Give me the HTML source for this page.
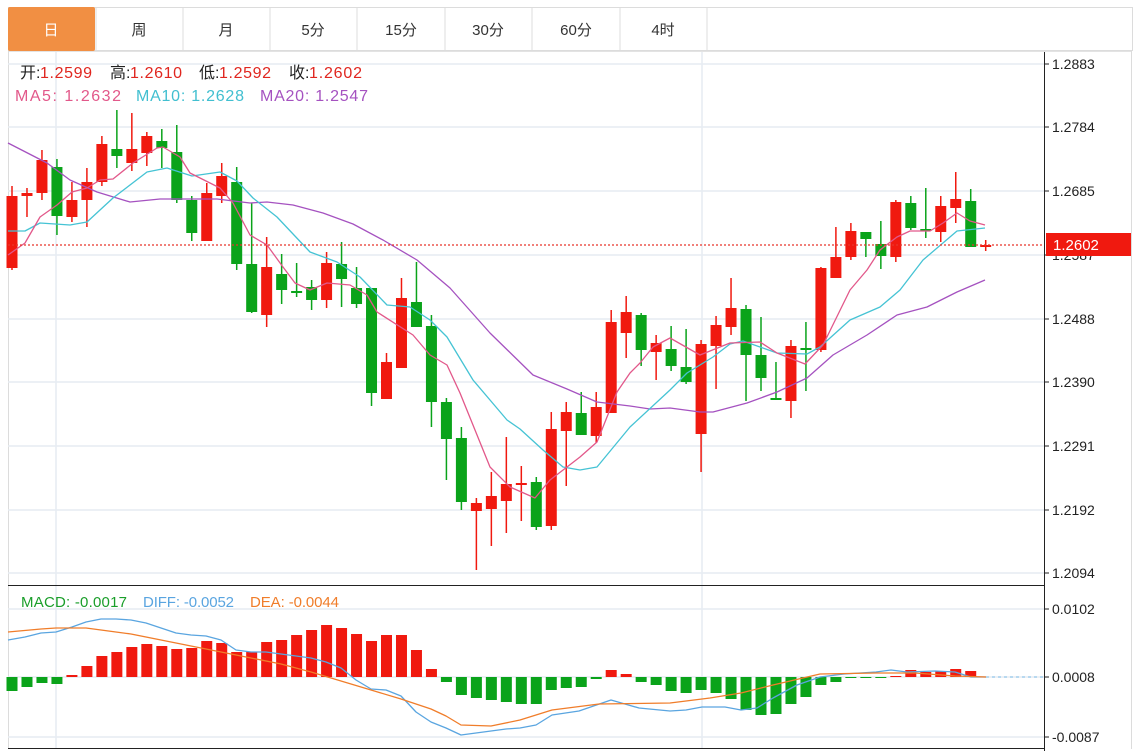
<!DOCTYPE html>
<html><head><meta charset="utf-8"><style>
html,body{margin:0;padding:0;background:#fff;}
body{width:1140px;height:751px;overflow:hidden;font-family:"Liberation Sans","Noto Sans CJK SC",sans-serif;}
</style></head><body>
<svg id="s" width="1140" height="751" xmlns="http://www.w3.org/2000/svg" font-family="Liberation Sans, Noto Sans CJK SC, sans-serif">
<rect x="0" y="0" width="1140" height="751" fill="#fff"/>
<rect x="8.5" y="7.5" width="1124" height="43" fill="#fff" stroke="#dcdcdc"/>
<rect x="8" y="7" width="87" height="44" rx="2" fill="#f18f43"/>
<g stroke="#dcdcdc"><line x1="183" y1="8" x2="183" y2="50"/><line x1="270" y1="8" x2="270" y2="50"/><line x1="357" y1="8" x2="357" y2="50"/><line x1="445" y1="8" x2="445" y2="50"/><line x1="532" y1="8" x2="532" y2="50"/><line x1="620" y1="8" x2="620" y2="50"/><line x1="707" y1="8" x2="707" y2="50"/><line x1="96" y1="8" x2="96" y2="50"/></g>
<g font-size="15" text-anchor="middle" fill="#333">
<text x="51" y="35" fill="#fff">日</text><text x="139" y="35">周</text><text x="226" y="35">月</text><text x="313" y="35">5分</text><text x="401" y="35">15分</text><text x="488" y="35">30分</text><text x="576" y="35">60分</text><text x="663" y="35">4时</text></g>
<line x1="8" y1="51.5" x2="1132" y2="51.5" stroke="#e3e3e3"/>
<line x1="8.5" y1="51" x2="8.5" y2="749" stroke="#dcdcdc"/>
<line x1="1131.5" y1="51" x2="1131.5" y2="749" stroke="#dcdcdc"/>
<g id="grid" stroke="#e6ecf2" stroke-width="1.5"></g>
<line x1="56" y1="52" x2="56" y2="749" stroke="#e6ecf2" stroke-width="1.5"/>
<line x1="702" y1="52" x2="702" y2="749" stroke="#e6ecf2" stroke-width="1.5"/>
<line x1="8" y1="585.5" x2="1044" y2="585.5" stroke="#222"/>
<line x1="8" y1="748.5" x2="1044" y2="748.5" stroke="#222"/>
<line x1="1044.5" y1="52" x2="1044.5" y2="751" stroke="#222"/>
<g id="ax" font-size="14" fill="#222"></g>
<g id="c"></g>
<line x1="8" y1="245" x2="1044" y2="245" stroke="#e8352b" stroke-width="1.2" stroke-dasharray="2,2"/>
<rect x="1046" y="233" width="85" height="23" fill="#f0190f"/>
<text x="1053" y="250" font-size="15" fill="#fff">1.2602</text>
<g font-size="16">
<text x="20" y="78" fill="#222">开:</text><text x="40" y="78" fill="#e0261f" textLength="52">1.2599</text>
<text x="110" y="78" fill="#222">高:</text><text x="130" y="78" fill="#e0261f" textLength="52">1.2610</text>
<text x="199" y="78" fill="#222">低:</text><text x="219" y="78" fill="#e0261f" textLength="52">1.2592</text>
<text x="289" y="78" fill="#222">收:</text><text x="309" y="78" fill="#e0261f" textLength="53">1.2602</text>
<text x="15" y="101" fill="#e2588a" textLength="106">MA5: 1.2632</text>
<text x="136" y="101" fill="#41bfd0" textLength="108">MA10: 1.2628</text>
<text x="260" y="101" fill="#a552c0" textLength="108">MA20: 1.2547</text>
</g>
<g font-size="15">
<text x="21" y="607" fill="#1a9e2a" textLength="106">MACD: -0.0017</text>
<text x="143" y="607" fill="#5aa5e0" textLength="91">DIFF: -0.0052</text>
<text x="250" y="607" fill="#f07d2a" textLength="89">DEA: -0.0044</text>
</g>
</svg>
<script>
var s=document.getElementById('c'),NS='http://www.w3.org/2000/svg';
function el(t,a,p){var e=document.createElementNS(NS,t);for(var k in a)e.setAttribute(k,a[k]);(p||s).appendChild(e);return e;}
var gy=[64,127,191,255,319,382,446,510,573],gl=['1.2883','1.2784','1.2685','1.2587','1.2488','1.2390','1.2291','1.2192','1.2094'];
var g=document.getElementById('grid'),ax=document.getElementById('ax');
gy.forEach(function(y,i){el('line',{x1:8,y1:y,x2:1044,y2:y},g);el('line',{x1:1044,y1:y,x2:1049,y2:y,stroke:'#222'},ax);var t=el('text',{x:1052,y:y+5},ax);t.textContent=gl[i];});
[[609,'0.0102'],[677,'0.0008'],[737,'-0.0087']].forEach(function(a){el('line',{x1:8,y1:a[0],x2:1044,y2:a[0]},g);el('line',{x1:1044,y1:a[0],x2:1049,y2:a[0],stroke:'#222'},ax);var t=el('text',{x:1052,y:a[0]+5},ax);t.textContent=a[1];});
var C=[[196,268,186,270,'r'],[193,196,188,217,'r'],[160,193,150,200,'r'],[167,216,159,235,'g'],[200,217,182,222,'r'],[182,200,168,227,'r'],[144,182,136,186,'r'],[149,156,110,168,'g'],[149,163,113,171,'r'],[136,153,132,166,'r'],[141,148,129,168,'g'],[152,200,125,203,'g'],[200,233,196,241,'g'],[193,241,183,241,'r'],[176,196,163,203,'r'],[182,264,167,270,'g'],[264,312,203,313,'g'],[267,315,237,327,'r'],[274,290,254,304,'g'],[291,293,263,297,'g'],[287,300,280,310,'g'],[263,300,252,308,'r'],[264,279,242,307,'g'],[288,304,267,308,'g'],[288,393,288,406,'g'],[362,399,353,399,'r'],[298,368,278,368,'r'],[302,327,262,327,'g'],[326,402,315,427,'g'],[402,439,398,480,'g'],[438,502,427,510,'g'],[503,511,498,570,'r'],[496,509,472,546,'r'],[484,501,437,533,'r'],[483,485,466,521,'r'],[482,527,477,530,'g'],[429,526,412,530,'r'],[412,431,402,486,'r'],[413,435,392,435,'g'],[407,436,392,443,'r'],[322,413,310,413,'r'],[312,333,296,358,'r'],[315,350,313,366,'g'],[343,352,335,380,'r'],[349,366,326,371,'g'],[367,382,329,384,'g'],[344,434,340,472,'r'],[325,346,316,389,'r'],[308,327,278,335,'r'],[309,355,305,401,'g'],[355,378,317,391,'g'],[398,399,362,399,'g'],[346,401,340,418,'r'],[348,349,322,391,'g'],[268,350,267,352,'r'],[257,278,227,278,'r'],[231,257,223,260,'r'],[232,239,232,257,'g'],[244,256,221,269,'g'],[202,257,200,262,'r'],[203,228,196,230,'g'],[229,231,188,238,'g'],[206,232,196,242,'r'],[199,208,172,223,'r'],[201,247,189,247,'g'],[245,247,240,251,'r']];
var R='#f0190f',G='#0aa31a';
function X(i){return 12+i*14.98;}
C.forEach(function(c,i){var x=X(i),col=c[4]=='r'?R:G;el('line',{x1:x,y1:c[2],x2:x,y2:c[3],stroke:col,'stroke-width':1.5});el('rect',{x:x-5.5,y:c[0],width:11,height:Math.max(2,c[1]-c[0]),fill:col});});
function pl(p,col,w){el('polyline',{points:p,fill:'none',stroke:col,'stroke-width':w||1.3,'stroke-linejoin':'round'});}
pl('8,143 47,163 70,180 97,192 130,202 160,199 187,199 217,199 250,203 267,202 293,205 323,213 353,224 383,240 417,260 450,288 490,333 533,375 567,389 597,402 630,406 650,409 670,408 700,412 713,412 747,403 777,392 807,378 833,355 867,335 897,315 927,307 957,292 985,280','#a552c0');
pl('8,231 25,231 40,223 70,225 87,222 113,198 147,172 167,168 192,176 220,172 237,181 253,198 277,217 310,252 337,262 360,277 387,305 410,307 430,320 447,337 473,380 507,420 520,429 543,450 563,467 580,470 597,467 630,427 670,390 687,373 713,357 730,344 743,341 777,353 807,354 820,347 850,320 880,307 900,290 923,260 957,231 985,228','#45c3d4');
pl('8,255 25,243 40,217 57,205 72,192 87,188 100,180 113,179 133,163 157,148 163,147 180,157 190,173 220,188 233,203 250,235 267,245 283,267 295,283 310,290 327,283 350,285 367,295 377,312 413,335 430,355 447,365 460,393 490,467 510,487 535,498 550,480 567,467 580,457 597,442 617,392 630,373 640,363 653,347 670,338 700,355 730,343 760,342 777,353 805,364 823,345 850,290 867,270 880,250 897,237 910,231 930,231 943,223 957,213 970,221 985,225','#e2588a');
var H=[-14,-10,-6,-7,2,11,21,25,30,33,31,28,29,36,34,25,25,35,37,42,47,52,49,43,36,42,42,27,8,-5,-18,-21,-23,-25,-27,-27,-13,-11,-10,-2,7,3,-5,-8,-14,-16,-13,-16,-22,-33,-38,-37,-27,-20,-8,-5,-1,-1,-1,1,7,5,6,8,6,0];
var Z=677;
H.forEach(function(h,i){var x=X(i);if(h==0)return;var col=h>0?R:G;el('rect',{x:x-5.5,y:h>0?Z-h:Z,width:11,height:Math.max(1,Math.abs(h)),fill:col});});
el('line',{x1:986,y1:677,x2:1044,y2:677,stroke:'#7fbde8','stroke-dasharray':'3,3'});
pl('8,640 25,637 41,633 56,632 72,627 86,622 101,619 116,619 131,620 146,623 161,628 176,633 191,635 206,636 221,640 236,650 251,652 266,652 281,654 296,656 311,658 326,662 341,668 356,680 371,689 386,690 401,696 416,712 431,722 446,728 461,735 476,733 491,731 506,729 520,728 536,725 552,715 579,711 611,700 639,708 670,711 686,710 702,707 725,707 741,710 757,708 773,698 797,685 820,677 844,674 876,672 891,670 907,672 935,671 955,672 971,677 986,677','#5aa5e0');
pl('8,632 41,629 56,628 86,628 101,630 131,634 161,640 191,646 221,652 251,658 281,664 311,672 341,681 371,690 401,699 431,709 446,716 461,725 491,726 520,720 552,710 599,704 670,703 710,698 741,693 773,685 820,674 876,673 915,673 955,676 986,677','#f07d2a');
</script>
</body></html>
